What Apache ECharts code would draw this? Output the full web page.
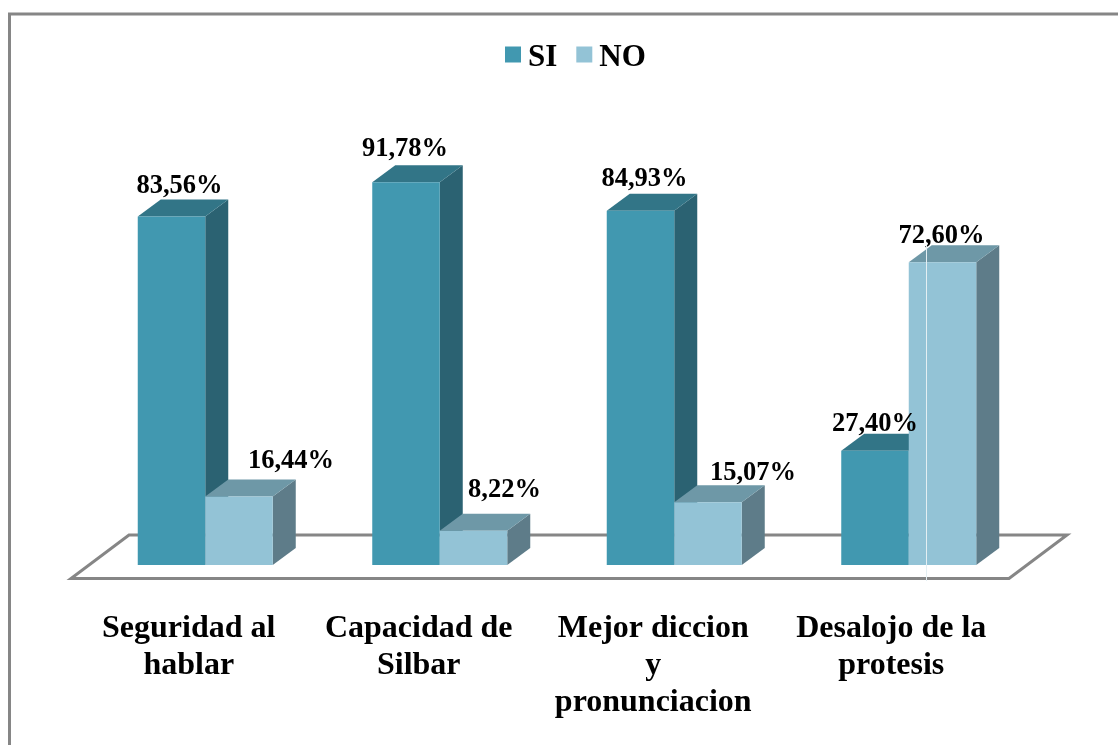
<!DOCTYPE html>
<html><head><meta charset="utf-8">
<style>html,body{margin:0;padding:0;background:#fff}#c{width:1118px;height:745px}</style>
<script src="https://cdn.jsdelivr.net/npm/echarts@6/dist/echarts.min.js"></script>
</head><body><div id="c"></div>
<script>
const categories = ['Seguridad al\nhablar', 'Capacidad de\nSilbar', 'Mejor diccion\ny\npronunciacion', 'Desalojo de la\nprotesis'];
const siValues = [83.56, 91.78, 84.93, 27.40];
const noValues = [16.44, 8.22, 15.07, 72.60];
const siLabelShift = [[8, 0], [-1, -3], [4, -1], [0, 4]];
const noLabelShift = [[52, -5], [31, -10], [45, 1], [-1, 4]];
const categoryLabelPad = [33, 42, 42, 35];

const FONT = '"Liberation Serif","Times New Roman",serif';
const DX = 23, DY = -17, BAR_W = 67.5;
const SI_FACES = {front: '#4198B0', top: '#327587', side: '#2B6272'};
const NO_FACES = {front: '#93C3D6', top: '#6E98A7', side: '#5E7C89'};
const catFont = {fontFamily: FONT, fontWeight: 'bold', fontSize: 32, lineHeight: 37, color: '#000'};
const legendFont = {fontFamily: FONT, fontWeight: 'bold', fontSize: 31, color: '#000'};

function fmt(v) { return v.toFixed(2).replace('.', ',') + '%'; }

function barRenderer(sign, faces, shifts, zBase) {
  return function (params, api) {
    const i = api.value(0), v = api.value(1);
    const c = api.coord([i, v]), b = api.coord([i, 0]);
    const x0 = sign < 0 ? c[0] - BAR_W : c[0], x1 = x0 + BAR_W;
    const y = c[1], base = b[1];
    const s = shifts[i];
    const poly = (pts, fill, z2) => ({type: 'polygon', shape: {points: pts}, style: {fill}, z2});
    return {type: 'group', children: [
      poly([[x1, y], [x1 + DX, y + DY], [x1 + DX, base + DY], [x1, base]], faces.side, zBase + 1),
      poly([[x0, y], [x0 + DX, y + DY], [x1 + DX, y + DY], [x1, y]], faces.top, zBase + 2),
      {type: 'rect', shape: {x: x0, y: y, width: BAR_W, height: base - y}, style: {fill: faces.front}, z2: zBase + 3},
      {type: 'text', z2: 100, style: {
        text: fmt(v), x: (x0 + x1) / 2 + s[0], y: y + DY + s[1],
        align: 'center', verticalAlign: 'bottom',
        font: 'bold 26.5px ' + FONT, fill: '#000'}}
    ]};
  };
}

function floorRenderer(params, api) {
  const cs = params.coordSys;
  const bottom = cs.y + cs.height;
  const l = cs.x, r = cs.x + cs.width;
  return {type: 'group', silent: true, children: [{
    type: 'polygon',
    shape: {points: [[l - 17, bottom + 13.5], [r - 17, bottom + 13.5], [r + 41, bottom - 30], [l + 41, bottom - 30]]},
    style: {fill: '#fff', stroke: '#868686', lineWidth: 3, lineJoin: 'miter'}
  }]};
}

const richStyles = {};
categoryLabelPad.forEach((p, i) => { richStyles['c' + i] = Object.assign({padding: [0, p, 0, 0]}, catFont); });

const chart = echarts.init(document.getElementById('c'), null, {renderer: 'canvas'});
chart.setOption({
  animation: false,
  backgroundColor: '#fff',
  grid: {left: 88, right: 92, top: 148, bottom: 180},
  legend: {
    data: ['SI', 'NO'], left: 500, top: 37, icon: 'rect',
    itemWidth: 16, itemHeight: 16, itemGap: 19, selectedMode: false,
    formatter: name => '{t|' + name + '}',
    textStyle: Object.assign({rich: {t: Object.assign({padding: [6, 0, 0, 2]}, legendFont)}}, legendFont)
  },
  xAxis: {
    type: 'category', data: categories,
    axisLine: {show: false}, axisTick: {show: false}, splitLine: {show: false},
    axisLabel: Object.assign({
      interval: 0, margin: 45, rich: richStyles,
      formatter: function (value, index) {
        return value.split('\n').map(l => '{c' + index + '|' + l + '}').join('\n');
      }
    }, catFont)
  },
  yAxis: {type: 'value', min: 0, max: 100, show: false, splitLine: {show: false}},
  graphic: [
    {type: 'polyline', z: 50, silent: true, shape: {points: [[9.5, 745], [9.5, 14], [1118, 14]]}, style: {stroke: '#868686', lineWidth: 3, fill: null}},
    {type: 'line', z: 60, silent: true, shape: {x1: 926.5, y1: 245, x2: 926.5, y2: 581}, style: {stroke: '#E4EFF3', lineWidth: 1}}
  ],
  series: [
    {name: 'floor', type: 'custom', data: [[0]], renderItem: floorRenderer, silent: true, z: 1},
    {name: 'SI', type: 'custom', encode: {x: 0, y: 1}, data: siValues.map((v, i) => [i, v]), renderItem: barRenderer(-1, SI_FACES, siLabelShift, 0), itemStyle: {color: SI_FACES.front}, z: 2},
    {name: 'NO', type: 'custom', encode: {x: 0, y: 1}, data: noValues.map((v, i) => [i, v]), renderItem: barRenderer(1, NO_FACES, noLabelShift, 10), itemStyle: {color: NO_FACES.front}, z: 2}
  ]
});
</script></body></html>
